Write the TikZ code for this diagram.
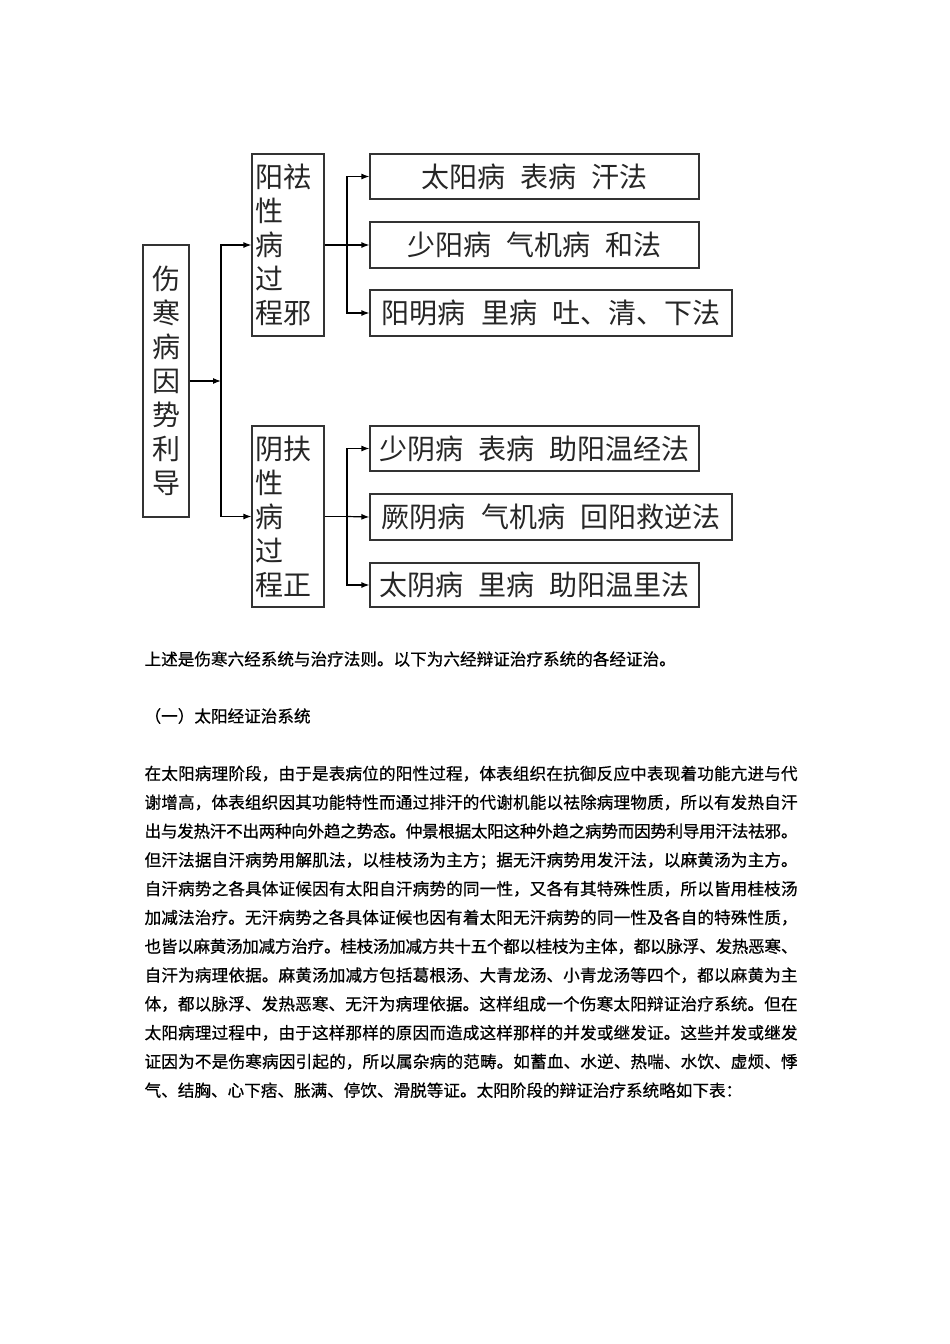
\documentclass[tikz,border=0pt]{standalone}
\usepackage{fontspec}
\usetikzlibrary{arrows.meta}
\IfFontExistsTF{FandolSong-Regular.otf}
  {\newfontfamily\song{FandolSong-Regular.otf}}
  {\newfontfamily\song{Noto Sans CJK SC}}
\newfontfamily\hei{Noto Sans CJK SC}[FakeBold=0.6]
\XeTeXlinebreaklocale "zh"
\XeTeXlinebreakskip=0pt plus 2pt minus 0.6pt
\newcommand\kong{\hspace{0.55em}}

\tikzset{
  box/.style={draw=black!80, rectangle, inner sep=0pt, text=black!85,
    font=\song\fontsize{28}{34}\selectfont},
  tallbox/.style={box, inner xsep=3pt, align=center},
  txt/.style={inner sep=0pt, font=\hei\fontsize{16.6}{28.8}\selectfont},
  para/.style={txt, text width=653pt, align=justify}
}

\begin{document}
\begin{tikzpicture}[x=1pt, y=-1pt, >={Latex[length=8pt,width=6pt]}, line width=1.2pt]
\fill[white] (0,0) rectangle (950,1344);
% 总框与两大过程
\node[tallbox, minimum width=46, minimum height=272] (cause) at (166,381) {伤\\寒\\病\\因\\势\\利\\导};
\node[tallbox, text width=66, align=left, minimum height=182] (yangbox) at (288,245) {阳祛\\性\\病\\过\\程邪};
\node[tallbox, text width=66, align=left, minimum height=181] (yinbox) at (288,516.5) {阴扶\\性\\病\\过\\程正};
% 六经
\node[box, minimum width=329, minimum height=45] (taiyang) at (534.5,176.5) {太阳病\kong 表病\kong 汗法};
\node[box, minimum width=329, minimum height=46] (shaoyang) at (534.5,245) {少阳病\kong 气机病\kong 和法};
\node[box, minimum width=362, minimum height=46] (yangming) at (551,313) {阳明病\kong 里病\kong 吐、清、下法};
\node[box, minimum width=329, minimum height=45] (shaoyin) at (534.5,448.5) {少阴病\kong 表病\kong 助阳温经法};
\node[box, minimum width=362, minimum height=46] (jueyin) at (551,517) {厥阴病\kong 气机病\kong 回阳救逆法};
\node[box, minimum width=329, minimum height=44] (taiyin) at (534.5,585) {太阴病\kong 里病\kong 助阳温里法};
% 连线
\coordinate (trunk) at (221,381);
\coordinate (fork1) at (347,245);
\coordinate (fork2) at (347,516.5);
\draw[->] (cause.east) -- (trunk);
\draw[<->] (yangbox.west) -| (trunk) |- (yinbox.west);
\draw (yangbox.east) -- (fork1);
\draw[<->] (taiyang.west) -| (fork1) |- (yangming.west);
\draw[->] (fork1) -- (shaoyang.west);
\draw (yinbox.east) -- (fork2);
\draw[<->] (shaoyin.west) -| (fork2) |- (taiyin.west);
\draw[->] (fork2) -- (jueyin.west);
% 正文
\node[txt, anchor=west] (summary) at (144,659) {上述是伤寒六经系统与治疗法则。以下为六经辩证治疗系统的各经证治。};
\node[txt, anchor=west] (heading) at (144,716) {（一）太阳经证治系统};
\node[para, anchor=north west] (body) at (144,765) {在太阳病理阶段，由于是表病位的阳性过程，体表组织在抗御反应中表现着功能亢进与代\linebreak
谢增高，体表组织因其功能特性而通过排汗的代谢机能以祛除病理物质，所以有发热自汗\linebreak
出与发热汗不出两种向外趋之势态。仲景根据太阳这种外趋之病势而因势利导用汗法祛邪。\linebreak
但汗法据自汗病势用解肌法，以桂枝汤为主方；据无汗病势用发汗法，以麻黄汤为主方。\linebreak
自汗病势之各具体证候因有太阳自汗病势的同一性，又各有其特殊性质，所以皆用桂枝汤\linebreak
加减法治疗。无汗病势之各具体证候也因有着太阳无汗病势的同一性及各自的特殊性质，\linebreak
也皆以麻黄汤加减方治疗。桂枝汤加减方共十五个都以桂枝为主体，都以脉浮、发热恶寒、\linebreak
自汗为病理依据。麻黄汤加减方包括葛根汤、大青龙汤、小青龙汤等四个，都以麻黄为主\linebreak
体，都以脉浮、发热恶寒、无汗为病理依据。这样组成一个伤寒太阳辩证治疗系统。但在\linebreak
太阳病理过程中，由于这样那样的原因而造成这样那样的并发或继发证。这些并发或继发\linebreak
证因为不是伤寒病因引起的，所以属杂病的范畴。如蓄血、水逆、热喘、水饮、虚烦、悸\linebreak
气、结胸、心下痞、胀满、停饮、滑脱等证。太阳阶段的辩证治疗系统略如下表：};
\end{tikzpicture}
\end{document}
